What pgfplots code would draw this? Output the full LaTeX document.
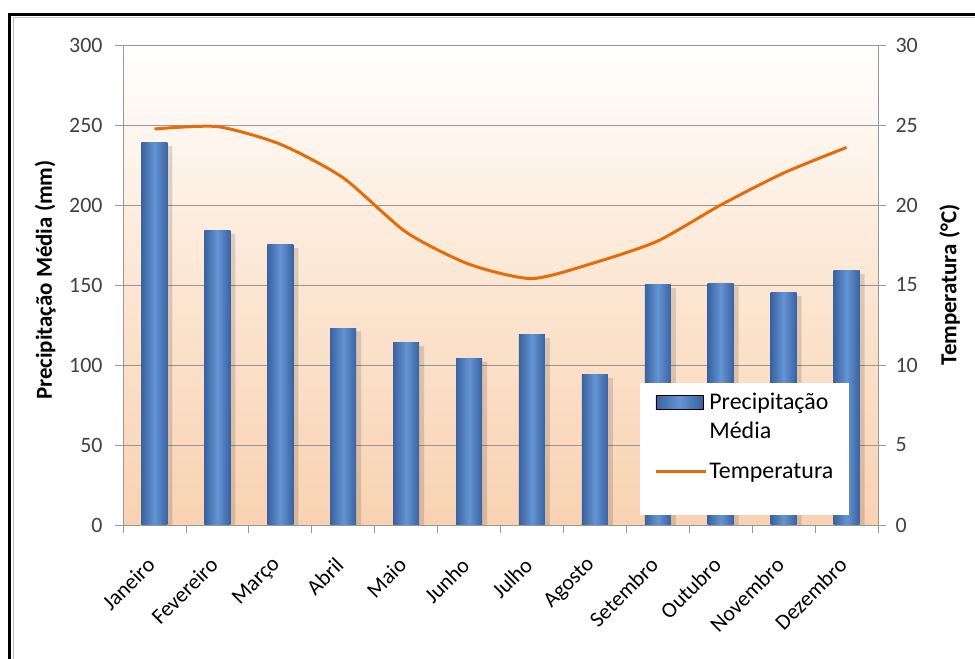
\documentclass[border=0pt]{standalone}
\usepackage{pgfplots}
\pgfplotsset{compat=1.18}
\usepackage{fontspec}
\setmainfont{Carlito}
\definecolor{bardark}{RGB}{58,98,160}
\definecolor{barmid}{RGB}{100,148,212}
\definecolor{tempor}{RGB}{228,108,10}
\definecolor{bgbot}{RGB}{249,210,178}
\definecolor{bgmid}{RGB}{252,230,210}
\definecolor{gridc}{RGB}{150,150,150}
\definecolor{tickc}{RGB}{64,64,64}
\begin{document}
\begin{tikzpicture}
\useasboundingbox (0bp,0bp) rectangle (975bp,659bp);
\fill[white] (0bp,0bp) rectangle (975bp,659bp);
\draw[gray!50, line width=1bp] (13bp,0bp) -- (13bp,641bp) -- (975bp,641bp);
\draw[black, line width=3bp] (9.5bp,0bp) -- (9.5bp,644.5bp) -- (975bp,644.5bp);
\pgfplotsset{
  every axis/.append style={font=\fontsize{22}{26}\selectfont, /pgf/number format/assume math mode=true},
  barst/.style={draw=none, left color=bardark, right color=bardark, middle color=barmid, bar shift=0pt, forget plot},
}
\begin{axis}[
  at={(123bp,134bp)}, anchor=south west,
  scale only axis, width=755bp, height=480bp,
  xmin=-0.5, xmax=11.5, ymin=0, ymax=300,
  axis background/.style={shade, top color=white, bottom color=bgbot, middle color=bgmid},
  axis y line*=left, axis x line*=bottom,
  axis line style={gridc, line width=0.8bp},
  xtick={0,...,11},
  xticklabels={Janeiro,Fevereiro,Março,Abril,Maio,Junho,Julho,Agosto,Setembro,Outubro,Novembro,Dezembro},
  xticklabel style={xshift=-1bp, yshift=-26bp, rotate=45, anchor=east, text=black},
  major x tick style={draw=none},
  minor xtick={-0.5,0.5,...,11.5},
  minor x tick style={gridc, line width=0.8bp},
  ytick={0,50,...,300},
  yticklabel style={text=tickc, xshift=-9bp},
  y tick style={gridc, line width=0.8bp},
  tick align=outside, major tick length=8bp, minor tick length=8bp,
  ymajorgrids, grid style={gridc, line width=0.8bp},
  ylabel={\bfseries\fontsize{23}{27}\selectfont Precipitação Média (mm)},
  every axis y label/.style={at={(axis description cs:-0.103,0.51)}, rotate=90, anchor=center},
  ybar, bar width=26bp,
]
\addplot[fill=black, opacity=0.13, draw=none, bar shift=5bp, forget plot]
coordinates {(0,237) (1,182) (2,173) (3,121) (4,112) (5,102) (6,117) (7,92) (8,148) (9,149) (10,143) (11,157)};
\addplot[barst] coordinates {(0,239)};
\addplot[barst] coordinates {(1,184)};
\addplot[barst] coordinates {(2,175)};
\addplot[barst] coordinates {(3,123)};
\addplot[barst] coordinates {(4,114)};
\addplot[barst] coordinates {(5,104)};
\addplot[barst] coordinates {(6,119)};
\addplot[barst] coordinates {(7,94)};
\addplot[barst] coordinates {(8,150)};
\addplot[barst] coordinates {(9,151)};
\addplot[barst] coordinates {(10,145)};
\addplot[barst] coordinates {(11,159)};
\end{axis}
\begin{axis}[
  at={(123bp,134bp)}, anchor=south west,
  scale only axis, width=755bp, height=480bp,
  xmin=-0.5, xmax=11.5, ymin=0, ymax=30,
  axis y line*=right, axis x line=none,
  axis line style={gridc, line width=0.8bp},
  ytick={0,5,...,30},
  yticklabel style={text=tickc, xshift=6bp},
  y tick style={gridc, line width=0.8bp},
  tick align=outside, major tick length=8bp,
  ylabel={\bfseries\fontsize{23}{27}\selectfont Temperatura (°C)},
  every axis y label/.style={at={(axis description cs:1.095,0.5)}, rotate=90, anchor=center},
  legend style={at={(0.685,0.296)}, anchor=north west, draw=none, fill=white,
    inner xsep=14bp, inner ysep=8bp, row sep=19bp,
    font=\fontsize{24}{29}\selectfont, nodes={align=left}},
  legend cell align=left,
]
\addlegendimage{legend image code/.code={\shade[left color=bardark, right color=bardark, middle color=barmid] (0bp,7.5bp) rectangle (47bp,21.5bp);}}
\addlegendentry{Precipitação\\Média}
\addplot[tempor, line width=3bp, smooth, tension=0.4, legend image code/.code={\draw[tempor, line width=3bp] (0bp,0bp) -- (50bp,0bp);}]
coordinates {(0,24.75) (1,24.9) (2,23.8) (3,21.7) (4,18.3) (5,16.3) (6,15.4) (7,16.4) (8,17.75) (9,20.0) (10,22.0) (11,23.6)};
\addlegendentry{Temperatura}
\addlegendimage{empty legend}
\addlegendentry[inner sep=0pt, minimum height=6bp]{}
\end{axis}
\end{tikzpicture}
\end{document}
